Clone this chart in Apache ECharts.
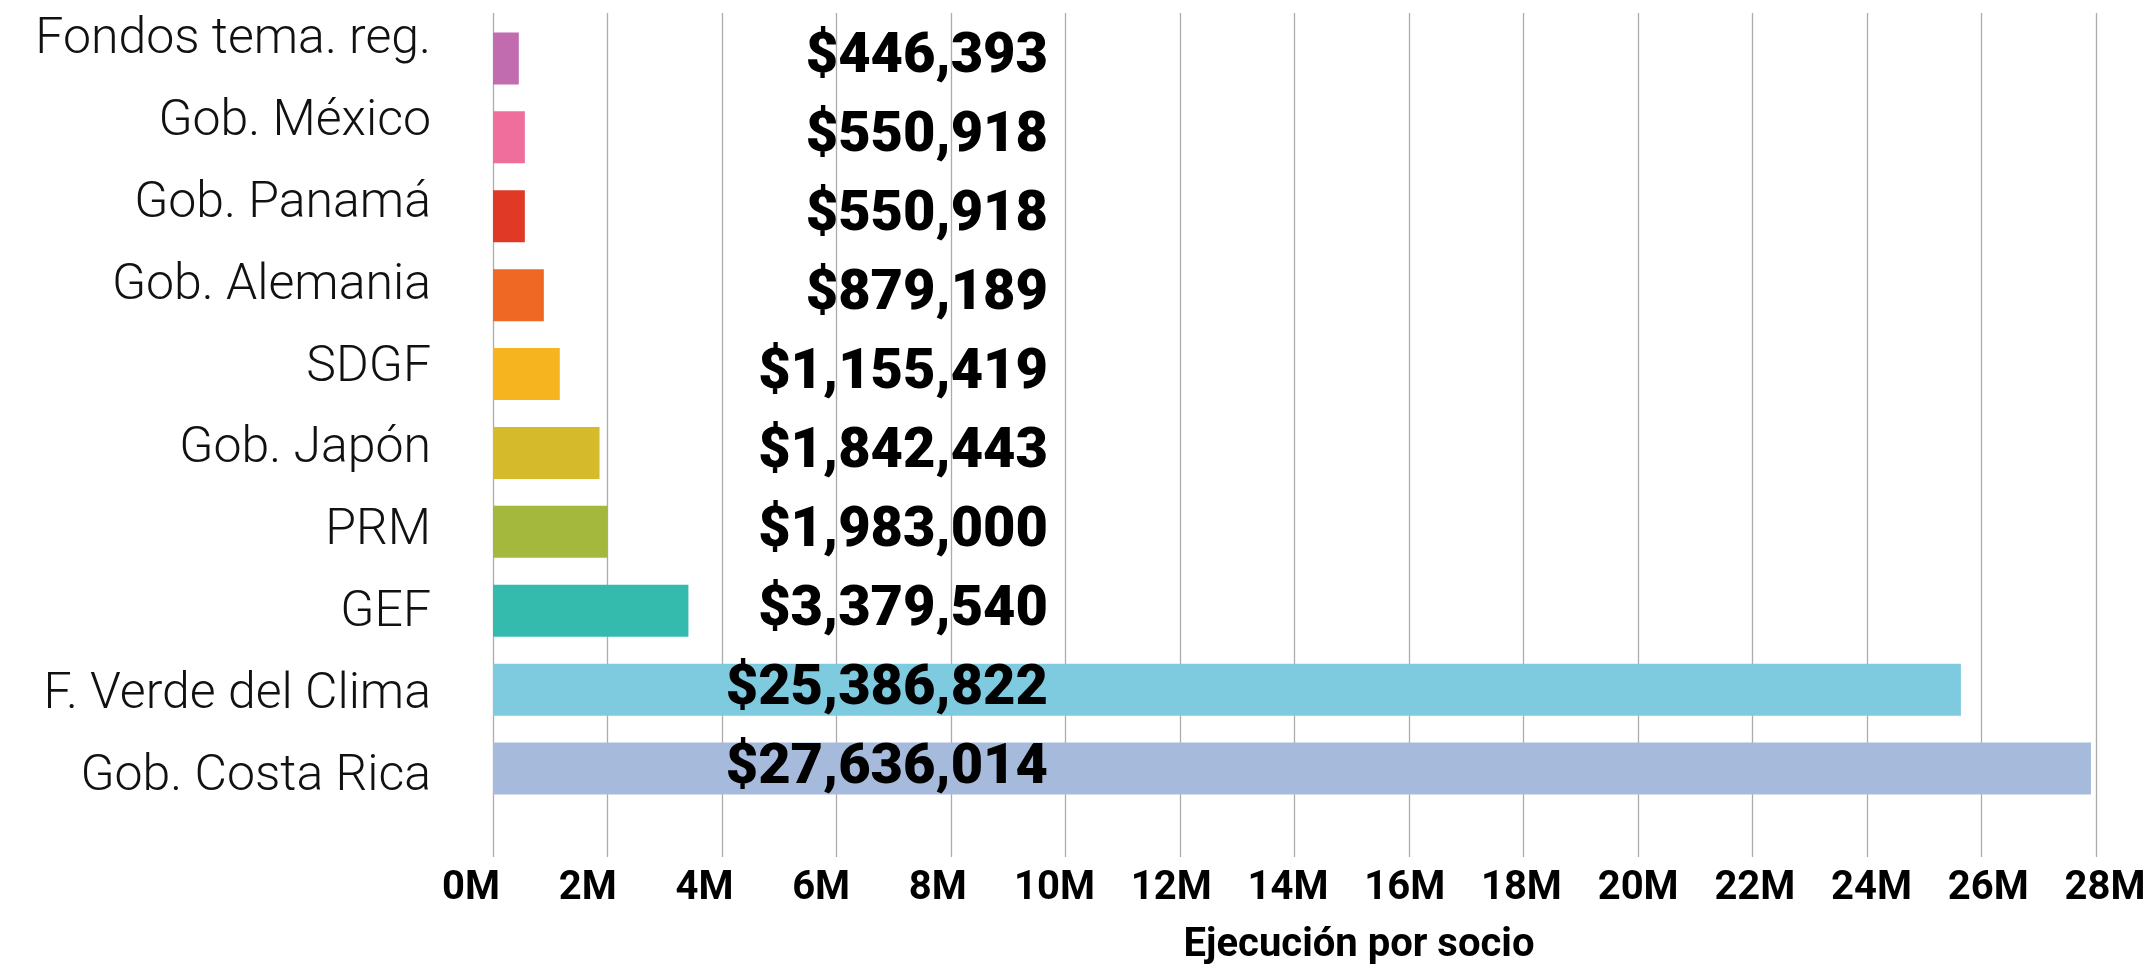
<!DOCTYPE html>
<html>
<head>
<meta charset="utf-8">
<script src="https://cdn.jsdelivr.net/npm/echarts@6/dist/echarts.min.js"></script>
<style>
    html, body { margin: 0; padding: 0; background: #fff; }
    #chart { width: 2151px; height: 971px; }
</style>
</head>
<body>
<div id="chart"></div>
<script>
// datos
const categories = [
    'Fondos tema. reg.', 'Gob. México', 'Gob. Panamá', 'Gob. Alemania', 'SDGF',
    'Gob. Japón', 'PRM', 'GEF', 'F. Verde del Clima', 'Gob. Costa Rica',
]
const values = [446393, 550918, 550918, 879189, 1155419, 1842443, 1983000, 3379540, 25386822, 27636014]
const barColors = [
    '#c06caf', '#f06e9c', '#e03a26', '#ef6924', '#f6b51f',
    '#d5bb2b', '#a3b83c', '#34bbae', '#7ecadf', '#a6bbdc',
]
const axisMax = 28000000
const axisStep = 2000000
const axisTitle = 'Ejecución por socio'

const font = 'Roboto'

let option = {
    animation: false,
    backgroundColor: '#fff',
    grid: [
        // lineas de la cuadricula
        { left: 493, right: 55, top: 13, bottom: 114 },
        // barras
        { left: 493, right: 39, top: 19, bottom: 163 },
        // etiquetas de categorias
        { left: 493, right: 55, top: -14, bottom: 153 },
        // etiquetas del eje x
        { left: 471, right: 46, top: 13, bottom: 114 },
    ],
    xAxis: [
        {
            gridIndex: 0, type: 'value', min: 0, max: axisMax, interval: axisStep,
            axisLine: { show: false }, axisTick: { show: false }, axisLabel: { show: false },
            splitLine: { show: true, lineStyle: { color: '#acacac', width: 1.3 } },
        },
        { gridIndex: 1, type: 'value', min: 0, max: axisMax, show: false },
        { gridIndex: 2, type: 'value', min: 0, max: axisMax, show: false },
        {
            gridIndex: 3, type: 'value', min: 0, max: axisMax, interval: axisStep,
            axisLine: { show: false }, axisTick: { show: false }, splitLine: { show: false },
            axisLabel: {
                margin: 14,
                fontFamily: font, fontSize: 40, fontWeight: 'bold', color: '#000',
                formatter: v => v / 1000000 + 'M',
            },
            name: axisTitle,
            nameLocation: 'middle',
            nameGap: 71,
            nameTextStyle: {
                fontFamily: font, fontSize: 40, fontWeight: 'bold', color: '#000',
                padding: [0, 0, 0, 142],
            },
        },
    ],
    yAxis: [
        { gridIndex: 0, type: 'value', show: false },
        { gridIndex: 1, type: 'category', data: categories, inverse: true, show: false },
        {
            gridIndex: 2, type: 'category', inverse: true,
            data: categories.map((c, i) => i === 0 ? { value: c, textStyle: { padding: [23, 0, 0, 0] } } : c),
            axisLine: { show: false }, axisTick: { show: false }, splitLine: { show: false },
            axisLabel: {
                margin: 62,
                fontFamily: font, fontSize: 50, fontWeight: 300, color: '#111',
            },
        },
        { gridIndex: 3, type: 'value', show: false },
    ],
    series: [
        {
            type: 'bar',
            xAxisIndex: 1,
            yAxisIndex: 1,
            barWidth: 52,
            data: values.map((v, i) => ({
                value: v,
                itemStyle: { color: barColors[i] },
            })),
            label: {
                show: true,
                position: [555, '50%'],
                align: 'right',
                verticalAlign: 'middle',
                fontFamily: font, fontSize: 56, fontWeight: 900, color: '#000',
                formatter: p => '$' + p.value.toLocaleString('en-US'),
            },
        },
    ],
}

let myChart = echarts.init(document.getElementById('chart'))
myChart.setOption(option, true)
</script>
</body>
</html>
